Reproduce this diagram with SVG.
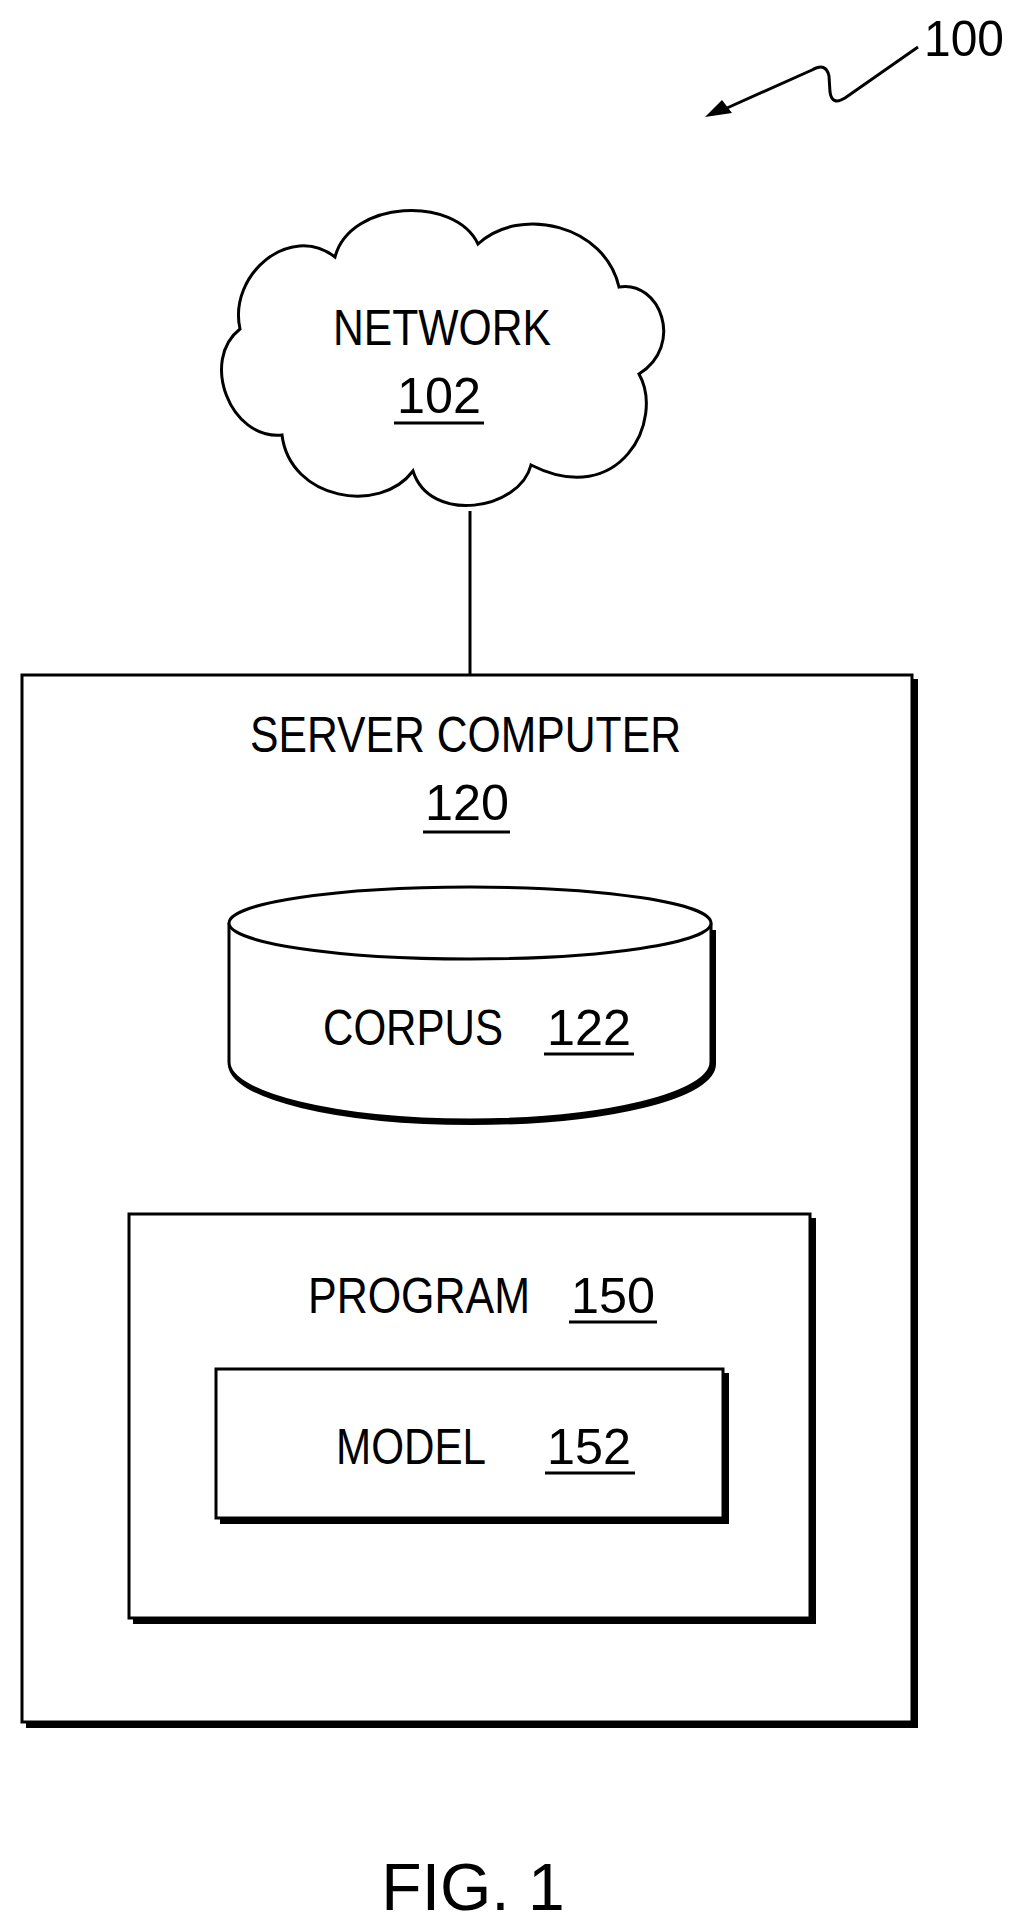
<svg xmlns="http://www.w3.org/2000/svg" width="1023" height="1931" viewBox="0 0 1023 1931">
<style>
.t{font-family:"Liberation Sans",Arial,sans-serif;font-size:50px;fill:#000}
.s{fill:none;stroke:#000;stroke-width:3}
.b{fill:#fff;stroke:#000;stroke-width:3}
.sh{fill:none;stroke:#000;stroke-width:6}
</style>
<rect width="1023" height="1931" fill="#fff"/>
<g id="ref100">
<text class="t" x="924" y="56" font-size="44" textLength="80" lengthAdjust="spacingAndGlyphs">100</text>
<path class="s" d="M918,47 L845,98 Q832,106 830,92 L829,76 Q826,62 812,70 L727,108"/>
<polygon points="705,117 722,100 732,113" fill="#000"/>
</g>
<g id="connectors">
<line class="s" x1="470" y1="511" x2="470" y2="675"/>
</g>
<g id="network">
<path class="b" d="M240,329 C228,275 290,222 335,257 C350,200 455,195 478,244 C520,205 605,225 619,287 C660,280 685,345 639,374 C665,420 620,510 531,465 C520,510 430,525 413,471 C380,515 290,500 282,435 C230,440 200,360 240,329 Z"/>
<text class="t" x="333" y="345" textLength="218" lengthAdjust="spacingAndGlyphs">NETWORK</text>
<text class="t" x="397" y="413" textLength="84" lengthAdjust="spacingAndGlyphs">102</text>
<line class="s" x1="394" y1="423" x2="484" y2="423"/>
</g>
<g id="server">
<polyline class="sh" points="915,679 915,1725 26,1725"/>
<rect class="b" x="22" y="675" width="890" height="1047"/>
<text class="t" x="250" y="752" textLength="431" lengthAdjust="spacingAndGlyphs">SERVER COMPUTER</text>
<text class="t" x="425" y="820" textLength="84" lengthAdjust="spacingAndGlyphs">120</text>
<line class="s" x1="423" y1="832" x2="510" y2="832"/>
</g>
<g id="corpus">
<path class="sh" d="M231,1064 A241,58 0 0 0 713,1064 L713,930"/>
<path class="b" d="M229,923 L229,1062 A241,58 0 0 0 711,1062 L711,923"/>
<ellipse class="b" cx="470" cy="923" rx="241" ry="36"/>
<text class="t" x="323" y="1045" textLength="180" lengthAdjust="spacingAndGlyphs">CORPUS</text>
<text class="t" x="547" y="1045" textLength="84" lengthAdjust="spacingAndGlyphs">122</text>
<line class="s" x1="544" y1="1054" x2="634" y2="1054"/>
</g>
<g id="program">
<polyline class="sh" points="813,1218 813,1621 133,1621"/>
<rect class="b" x="129" y="1214" width="681" height="404"/>
<text class="t" x="308" y="1313" textLength="222" lengthAdjust="spacingAndGlyphs">PROGRAM</text>
<text class="t" x="571" y="1313" textLength="84" lengthAdjust="spacingAndGlyphs">150</text>
<line class="s" x1="569" y1="1322" x2="657" y2="1322"/>
</g>
<g id="model">
<polyline class="sh" points="726,1373 726,1521 220,1521"/>
<rect class="b" x="216" y="1369" width="507" height="149"/>
<text class="t" x="336" y="1464" textLength="150" lengthAdjust="spacingAndGlyphs">MODEL</text>
<text class="t" x="547" y="1464" textLength="84" lengthAdjust="spacingAndGlyphs">152</text>
<line class="s" x1="545" y1="1473" x2="635" y2="1473"/>
</g>
<text x="473" y="1910" text-anchor="middle" font-family="Liberation Sans,Arial,sans-serif" font-size="66">FIG. 1</text>
</svg>
